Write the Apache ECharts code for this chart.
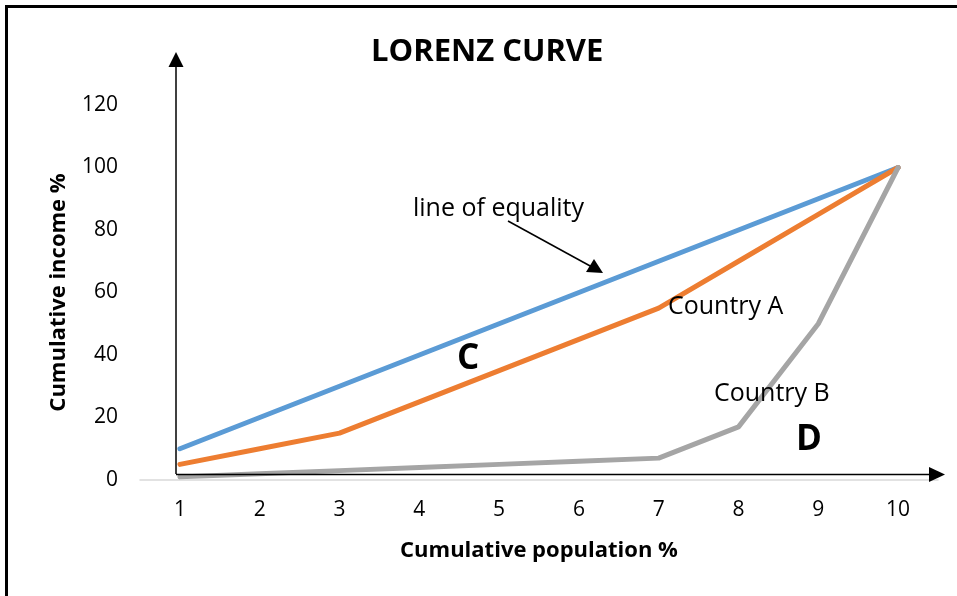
<!DOCTYPE html>
<html>
<head>
<meta charset="utf-8">
<script src="https://cdn.jsdelivr.net/npm/echarts@6/dist/echarts.min.js"></script>
<style>
  html, body { margin: 0; padding: 0; background: #fff; }
  #chart { width: 957px; height: 596px; }
</style>
</head>
<body>
<div id="chart"></div>
<script>
// data
var categories = ['1', '2', '3', '4', '5', '6', '7', '8', '9', '10'];
var equality = [10, 20, 30, 40, 50, 60, 70, 80, 90, 100];
var countryA = [5, 10, 15, 25, 35, 45, 55, 70, 85, 100];
var countryB = [1, 2, 3, 4, 5, 6, 7, 17, 50, 100];

var font = '"Open Sans", "Noto Sans", sans-serif';

var chart = echarts.init(document.getElementById('chart'));

var option = {
  animation: false,
  backgroundColor: '#fff',
  title: {
    text: 'LORENZ CURVE',
    left: 366,
    top: 32,
    textStyle: { fontFamily: font, fontSize: 31, fontWeight: 'bold', color: '#000' }
  },
  grid: { left: 140, right: 19, top: 105, bottom: 116 },
  xAxis: {
    type: 'category',
    boundaryGap: true,
    data: categories,
    name: 'Cumulative population %',
    nameLocation: 'middle',
    nameGap: 60,
    nameTextStyle: { fontFamily: font, fontSize: 22, fontWeight: 'bold', color: '#000' },
    axisLine: { show: true, lineStyle: { color: '#d9d9d9', width: 1.5 } },
    axisTick: { show: false },
    axisLabel: { fontFamily: font, fontSize: 21, color: '#000', margin: 20 },
    splitLine: { show: false }
  },
  yAxis: {
    type: 'value',
    min: 0,
    max: 120,
    interval: 20,
    name: 'Cumulative income %',
    nameLocation: 'middle',
    nameGap: 70,
    nameTextStyle: { fontFamily: font, fontSize: 22, fontWeight: 'bold', color: '#000' },
    axisLine: { show: false },
    axisTick: { show: false },
    axisLabel: { fontFamily: font, fontSize: 21, color: '#000', margin: 22 },
    splitLine: { show: false }
  },
  series: [
    {
      name: 'line of equality',
      type: 'line',
      data: equality,
      symbol: 'none',
      lineStyle: { color: '#5b9bd5', width: 5, cap: 'round' }
    },
    {
      name: 'Country A',
      type: 'line',
      data: countryA,
      symbol: 'none',
      lineStyle: { color: '#ed7d31', width: 5, cap: 'round' }
    },
    {
      name: 'Country B',
      type: 'line',
      data: countryB,
      symbol: 'none',
      lineStyle: { color: '#a5a5a5', width: 5, cap: 'round' }
    }
  ],
  graphic: [
    // frame (left and top edges only show in the picture)
    { type: 'rect', shape: { x: 6.5, y: 6.5, width: 3000, height: 3000 },
      style: { fill: 'none', stroke: '#000', lineWidth: 3 }, z: 100 },
    // drawn axis arrows
    { type: 'line', shape: { x1: 176, y1: 474, x2: 176, y2: 64 },
      style: { stroke: '#000', lineWidth: 1.5 }, z: 100 },
    { type: 'polygon', shape: { points: [[176, 52], [168.5, 67], [183.5, 67]] },
      style: { fill: '#000' }, z: 100 },
    { type: 'line', shape: { x1: 176, y1: 474.5, x2: 932, y2: 474.5 },
      style: { stroke: '#000', lineWidth: 1.5 }, z: 100 },
    { type: 'polygon', shape: { points: [[945, 474.5], [929, 467], [929, 482]] },
      style: { fill: '#000' }, z: 100 },
    // annotation arrow
    { type: 'line', shape: { x1: 508, y1: 221, x2: 592, y2: 267 },
      style: { stroke: '#000', lineWidth: 1.5 }, z: 100 },
    { type: 'polygon', shape: { points: [[603, 273], [586, 272], [594, 259]] },
      style: { fill: '#000' }, z: 100 },
    // labels
    { type: 'text', left: 413, top: 196,
      style: { text: 'line of equality', font: '25px ' + font, fill: '#000' }, z: 100 },
    { type: 'text', left: 668, top: 294,
      style: { text: 'Country A', font: '25px ' + font, fill: '#000' }, z: 100 },
    { type: 'text', left: 714, top: 381,
      style: { text: 'Country B', font: '25px ' + font, fill: '#000' }, z: 100 },
    { type: 'text', left: 457, top: 342,
      style: { text: 'C', font: 'bold 35px ' + font, fill: '#000' }, z: 100 },
    { type: 'text', left: 796, top: 423,
      style: { text: 'D', font: 'bold 35px ' + font, fill: '#000' }, z: 100 }
  ]
};

chart.setOption(option);
</script>
</body>
</html>
